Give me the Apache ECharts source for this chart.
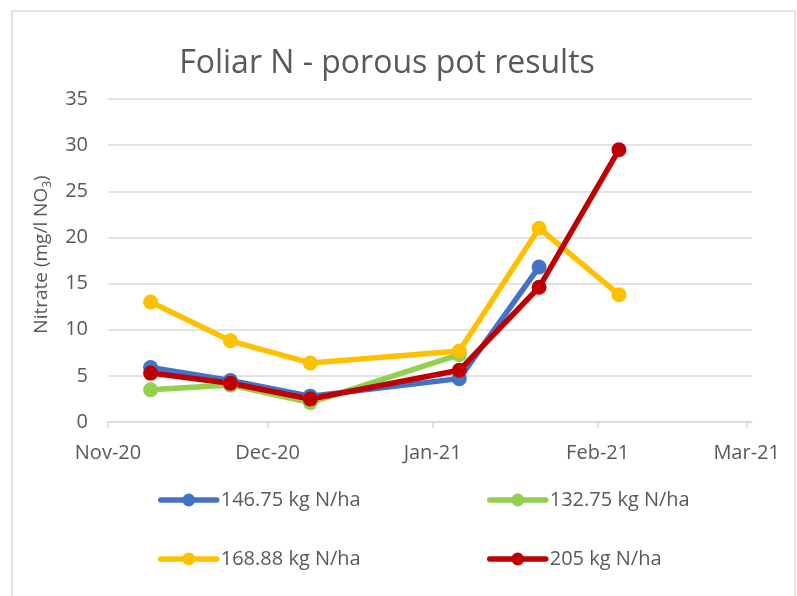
<!DOCTYPE html>
<html>
<head>
<meta charset="utf-8">
<script src="https://cdn.jsdelivr.net/npm/echarts@6/dist/echarts.min.js"></script>
<style>
  html, body { margin: 0; padding: 0; background: #fff; }
  #chart { width: 797px; height: 596px; }
</style>
</head>
<body>
<div id="chart"></div>
<script>
// sampling dates
var sampleDates = [
  new Date(2020, 10, 9), new Date(2020, 10, 24), new Date(2020, 11, 9),
  new Date(2021, 0, 6), new Date(2021, 0, 21), new Date(2021, 1, 5)
];
var tickDates = [
  new Date(2020, 10, 1), new Date(2020, 11, 1), new Date(2021, 0, 1),
  new Date(2021, 1, 1), new Date(2021, 2, 1)
];
var tickLabels = ["Nov-20", "Dec-20", "Jan-21", "Feb-21", "Mar-21"];

var names = ["146.75 kg N/ha", "132.75 kg N/ha", "168.88 kg N/ha", "205 kg N/ha"];
var n146 = [5.9, 4.5, 2.8, 4.7, 16.8, null];
var n132 = [3.5, 4.0, 2.1, 7.3, null, null];
var n168 = [13.0, 8.8, 6.4, 7.7, 21.0, 13.8];
var n205 = [5.3, 4.2, 2.5, 5.6, 14.6, 29.5];
var colors = ["#4472C4", "#92D050", "#FFC000", "#C00000"];

var font = "'Open Sans', 'Noto Sans', sans-serif";
var grey = "#595959";

function pairs(vals) {
  var out = [];
  vals.forEach(function (v, i) {
    if (v !== null) out.push([sampleDates[i].getTime(), v]);
  });
  return out;
}

function labelFor(val) {
  for (var i = 0; i < tickDates.length; i++) {
    if (Math.abs(tickDates[i].getTime() - val) < 43200000) return tickLabels[i];
  }
  return "";
}

var chart = echarts.init(document.getElementById("chart"));

var seriesData = [n146, n132, n168, n205];
var series = seriesData.map(function (vals, i) {
  return {
    name: names[i],
    type: "line",
    data: pairs(vals),
    symbol: "circle",
    symbolSize: 15,
    showAllSymbol: true,
    lineStyle: { width: 5.5, color: colors[i] },
    itemStyle: { color: colors[i] },
    emphasis: { disabled: true }
  };
});

var legendPos = [
  { left: 158, top: 490 },
  { left: 487, top: 490 },
  { left: 158, top: 549 },
  { left: 487, top: 549 }
];

var tickValues = tickDates.map(function (d) { return d.getTime(); });

var option = {
  animation: false,
  color: colors,
  title: {
    text: "Foliar N - porous pot results",
    left: 382,
    top: 43,
    textAlign: "center",
    textStyle: { fontFamily: font, fontSize: 32, fontWeight: "normal", color: grey }
  },
  graphic: [{
    type: "rect",
    shape: { x: 12, y: 11, width: 783, height: 600 },
    style: { fill: "none", stroke: "#d9d9d9", lineWidth: 1.5 },
    silent: true
  }],
  legend: names.map(function (nm, i) {
    return {
      data: [nm],
      left: legendPos[i].left,
      top: legendPos[i].top,
      padding: 0,
      itemWidth: 56,
      itemHeight: 16,
      itemGap: 0,
      lineStyle: { width: 5.5, cap: "round" },
      textStyle: { fontFamily: font, fontSize: 20, color: grey, padding: [0, 0, 0, -1] },
      selectedMode: false
    };
  }),
  grid: { left: 108, right: 45, top: 99, bottom: 174 },
  xAxis: {
    type: "value",
    min: new Date(2020, 10, 1).getTime(),
    max: new Date(2021, 2, 2).getTime(),
    axisLine: { onZero: false, lineStyle: { color: "#d9d9d9", width: 1.5 } },
    axisTick: {
      show: true,
      length: 6,
      customValues: tickValues,
      lineStyle: { color: "#d9d9d9", width: 1.5 }
    },
    axisLabel: {
      customValues: tickValues,
      formatter: function (val) { return labelFor(val); },
      fontFamily: font,
      fontSize: 20,
      color: grey,
      margin: 21
    },
    splitLine: { show: false }
  },
  yAxis: {
    type: "value",
    min: 0,
    max: 35,
    interval: 5,
    name: "{a|Nitrate (mg/l NO}{b|3}{a|)}",
    nameLocation: "middle",
    nameGap: 54,
    nameTextStyle: {
      padding: [0, 0, 0, 12],
      rich: {
        a: { fontFamily: font, fontSize: 19, color: grey, lineHeight: 25 },
        b: { fontFamily: font, fontSize: 12, color: grey, lineHeight: 25, verticalAlign: "bottom", padding: [9, 0, 0, 0] }
      }
    },
    axisLine: { show: false },
    axisTick: { show: false },
    axisLabel: { fontFamily: font, fontSize: 20, color: grey, margin: 20 },
    splitLine: { lineStyle: { color: "#d9d9d9", width: 1.5 } }
  },
  series: series
};

chart.setOption(option);
</script>
</body>
</html>
